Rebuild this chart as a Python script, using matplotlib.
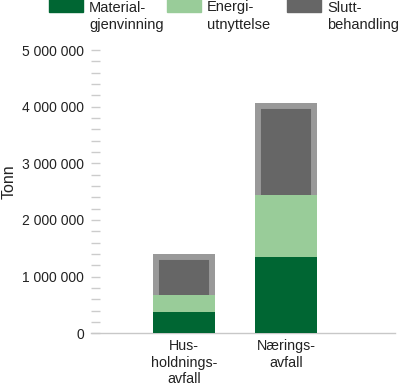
import matplotlib

matplotlib.use("Agg")
import matplotlib.pyplot as plt
from matplotlib.patches import Rectangle
from matplotlib.ticker import FuncFormatter, MultipleLocator

plt.rcParams["font.family"] = ["Liberation Sans", "DejaVu Sans"]

categories = ["Hus-\nholdnings-\navfall", "Nærings-\navfall"]
series_names = ["Material-\ngjenvinning", "Energi-\nutnyttelse", "Slutt-\nbehandling"]
materialgjenvinning = [380_000, 1_350_000]
energiutnyttelse = [300_000, 1_090_000]
sluttbehandling = [720_000, 1_630_000]
series_colors = ["#006633", "#99cc99", "#666666"]
y_ticks = [0, 1_000_000, 2_000_000, 3_000_000, 4_000_000, 5_000_000]

W, H = 400, 388
fig = plt.figure(figsize=(W / 100, H / 100), dpi=100)
ax = fig.add_axes([91 / W, 1 - 333.3 / H, 304 / W, 283.3 / H])

x = list(range(len(categories)))
mat_top = materialgjenvinning
en_top = [m + e for m, e in zip(materialgjenvinning, energiutnyttelse)]

ax.bar(x, materialgjenvinning, width=0.6, color=series_colors[0], zorder=3)
ax.bar(x, energiutnyttelse, width=0.6, bottom=mat_top, color=series_colors[1], zorder=3)
# slutt segment with a lighter frame; it starts a little lower so the
# energi segment hides the frame's bottom edge
overlap = 150_000
bars = ax.bar(x, [s + overlap for s in sluttbehandling], width=0.6,
              bottom=[b - overlap for b in en_top], color=series_colors[2],
              edgecolor="#999999", linewidth=8.6, zorder=2)
for b in bars:
    b.set_clip_path(b)

ax.set_xlim(-0.912, 2.07)
ax.set_ylim(0, 5_000_000)
ax.set_yticks(y_ticks)
ax.yaxis.set_minor_locator(MultipleLocator(200_000))
ax.yaxis.set_major_formatter(FuncFormatter(lambda v, _: f"{int(v):,}".replace(",", " ")))
ax.set_xticks(x)
ax.set_xticklabels(categories, fontsize=10.3, linespacing=1.25)

for side in ["top", "right", "left"]:
    ax.spines[side].set_visible(False)
ax.spines["bottom"].set_color("#c8c8c8")
ax.spines["bottom"].set_linewidth(1)

ax.tick_params(axis="y", which="both", direction="in", length=6.5, width=1,
               color="#cccccc", labelsize=10, pad=5, labelcolor="#222222")
ax.tick_params(axis="x", length=0, pad=4, labelcolor="#222222")
ax.set_ylabel("Tonn", fontsize=11.5, color="#222222")
ax.yaxis.set_label_coords(-0.245, 0.535)

# legend across the top, partly cut off like the original
leg_x = [49, 167, 287]
for lx, name, color in zip(leg_x, series_names, series_colors):
    fig.add_artist(Rectangle((lx / W, 1 - 11.5 / H), 34 / W, 18 / H,
                             transform=fig.transFigure, color=color))
    fig.text((lx + 40) / W, 1 - 0.5 / H, name, fontsize=10.5, va="top",
             ha="left", linespacing=1.3, color="#222222")

fig.savefig("out.png", dpi=100)
